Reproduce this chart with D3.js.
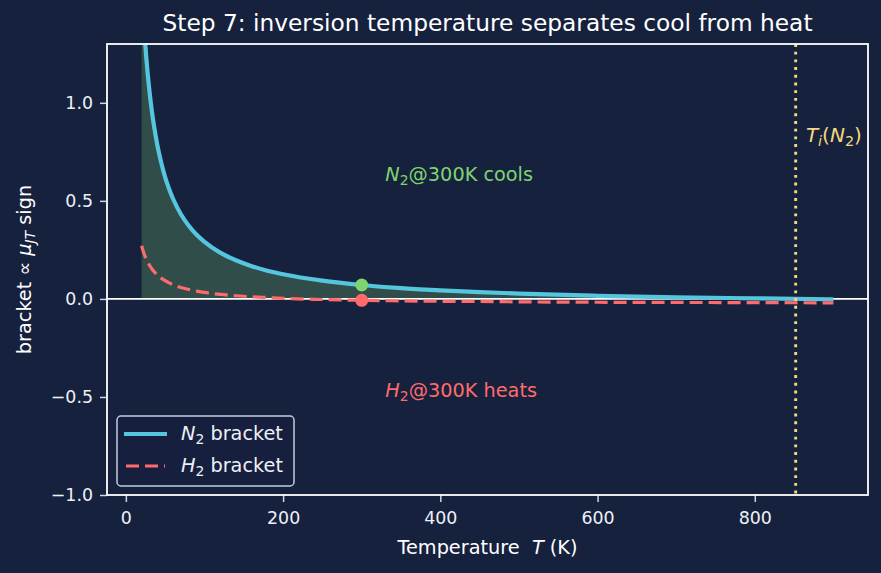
<!DOCTYPE html>
<html>
<head>
<meta charset="utf-8">
<script src="https://cdn.jsdelivr.net/npm/d3@7"></script>
<style>
  body { margin: 0; background: #16213e; }
  text { font-family: "DejaVu Sans", sans-serif; white-space: pre; }
</style>
</head>
<body>
<div id="chart"></div>
<script>
// temperatures (K) and bracket values
const temps = [20, 22, 24, 26, 28, 30, 33, 36, 40, 45, 50, 55, 60, 70, 80, 90, 100,
    120, 140, 160, 180, 200, 250, 300, 350, 400, 450, 500, 600, 700, 800, 900];
const n2Bracket = [1.609, 1.459, 1.334, 1.229, 1.138, 1.060, 0.960, 0.877, 0.785, 0.694,
    0.620, 0.561, 0.511, 0.432, 0.373, 0.327, 0.291, 0.236, 0.197, 0.167, 0.144, 0.126,
    0.093, 0.071, 0.055, 0.044, 0.035, 0.027, 0.016, 0.008, 0.003, -0.002];
const h2Bracket = [0.271, 0.244, 0.222, 0.202, 0.186, 0.172, 0.154, 0.139, 0.122, 0.106,
    0.093, 0.082, 0.073, 0.058, 0.048, 0.040, 0.033, 0.023, 0.016, 0.011, 0.007, 0.003,
    -0.003, -0.007, -0.010, -0.012, -0.013, -0.015, -0.017, -0.018, -0.019, -0.020];

const tRef = 300;
const n2Ref = 0.071;
const h2Ref = -0.007;
const tInversion = 852;

const xTicks = [0, 200, 400, 600, 800];
const yTicks = [-1.0, -0.5, 0.0, 0.5, 1.0];

const W = 881, H = 573;
const margin = {top: 44, right: 13, bottom: 78, left: 107};
const width = W - margin.left - margin.right,
    height = H - margin.top - margin.bottom;

const bg = "#16213e";
const cyan = "#56c5de";
const red = "#ff6b6b";
const green = "#7fd46f";
const yellow = "#f3d87c";

const svg = d3.select("#chart")
    .append("svg")
    .attr("width", W)
    .attr("height", H)
    .style("background", bg);

const g = svg.append("g")
    .attr("transform", "translate(" + margin.left + "," + margin.top + ")");

const x = d3.scaleLinear().domain([-24, 944]).range([0, width]);
const y = d3.scaleLinear().domain([-1.0, 1.3]).range([height, 0]);

svg.append("defs").append("clipPath")
    .attr("id", "plotclip")
    .append("rect")
    .attr("width", width)
    .attr("height", height);

const rows = temps.map((t, i) => ({t: t, n2: n2Bracket[i], h2: h2Bracket[i]}));

const plot = g.append("g").attr("clip-path", "url(#plotclip)");

// shaded region under N2 where it is positive
plot.append("path")
    .datum(rows.filter(d => d.n2 > 0))
    .attr("fill", green)
    .attr("fill-opacity", 0.25)
    .attr("d", d3.area()
        .x(d => x(d.t))
        .y0(y(0))
        .y1(d => y(d.n2))
        .curve(d3.curveMonotoneX));

// zero line
plot.append("line")
    .attr("x1", 0).attr("x2", width)
    .attr("y1", y(0)).attr("y2", y(0))
    .attr("stroke", "white")
    .attr("stroke-width", 1.8);

plot.append("path")
    .datum(rows)
    .attr("fill", "none")
    .attr("stroke", cyan)
    .attr("stroke-width", 4.2)
    .attr("d", d3.line().x(d => x(d.t)).y(d => y(d.n2)).curve(d3.curveMonotoneX));

plot.append("path")
    .datum(rows)
    .attr("fill", "none")
    .attr("stroke", red)
    .attr("stroke-width", 3.2)
    .attr("stroke-dasharray", "13,6")
    .attr("d", d3.line().x(d => x(d.t)).y(d => y(d.h2)).curve(d3.curveMonotoneX));

// inversion temperature
plot.append("line")
    .attr("x1", x(tInversion)).attr("x2", x(tInversion))
    .attr("y1", 0).attr("y2", height)
    .attr("stroke", yellow)
    .attr("stroke-width", 2.9)
    .attr("stroke-dasharray", "2.9,4.8");

plot.append("circle")
    .attr("cx", x(tRef)).attr("cy", y(n2Ref)).attr("r", 6.5)
    .attr("fill", green);
plot.append("circle")
    .attr("cx", x(tRef)).attr("cy", y(h2Ref)).attr("r", 6.5)
    .attr("fill", red);

// text helper for math-ish labels: parts = [text, style]
function mathText(sel, parts) {
    parts.forEach(p => {
        let ts = sel.append("tspan").text(p[0]);
        if (p[1].includes("i")) ts.attr("font-style", "italic");
        if (p[1].includes("sub")) {
            ts.attr("font-size", "72%").attr("dy", "0.28em");
        }
        if (p[1].includes("back")) ts.attr("dy", "-0.2em");
    });
    return sel;
}

mathText(g.append("text")
    .attr("x", x(330)).attr("y", y(0.6))
    .attr("fill", green)
    .attr("font-size", 19.3), [["N", "i"], ["2", "sub"], ["@300K cools", "back"]]);

mathText(g.append("text")
    .attr("x", x(330)).attr("y", y(-0.5))
    .attr("fill", red)
    .attr("font-size", 19.3), [["H", "i"], ["2", "sub"], ["@300K heats", "back"]]);

mathText(g.append("text")
    .attr("x", x(865)).attr("y", y(0.8))
    .attr("fill", yellow)
    .attr("font-size", 20), [["T", "i"], ["i", "subi"], ["(", "back"], ["N", "i"], ["2", "sub"], [")", "back"]]);

// axes
const xAxis = g.append("g")
    .attr("transform", "translate(0," + height + ")")
    .call(d3.axisBottom(x).tickValues(xTicks).tickSize(7).tickPadding(10).tickSizeOuter(0));
const yAxis = g.append("g")
    .call(d3.axisLeft(y).tickValues(yTicks).tickFormat(d3.format(".1f")).tickSize(7).tickPadding(7).tickSizeOuter(0));

[xAxis, yAxis].forEach(a => {
    a.select(".domain").remove();
    a.selectAll(".tick line").attr("stroke", "#d0d6e6").attr("stroke-width", 1.5);
    a.selectAll(".tick text")
        .attr("fill", "#eef0f6")
        .attr("font-size", 17.4)
        .attr("font-family", "DejaVu Sans");
});

// frame
g.append("rect")
    .attr("width", width).attr("height", height)
    .attr("fill", "none")
    .attr("stroke", "white")
    .attr("stroke-width", 1.8);

// legend
const leg = g.append("g").attr("transform", "translate(10,372)");
leg.append("rect")
    .attr("width", 177).attr("height", 70).attr("rx", 4)
    .attr("fill", bg).attr("fill-opacity", 0.8)
    .attr("stroke", "#c5cbe0").attr("stroke-width", 1.5);
leg.append("line")
    .attr("x1", 7).attr("x2", 50).attr("y1", 18).attr("y2", 18)
    .attr("stroke", cyan).attr("stroke-width", 4.2);
leg.append("line")
    .attr("x1", 9).attr("x2", 48).attr("y1", 50).attr("y2", 50)
    .attr("stroke", red).attr("stroke-width", 3.2).attr("stroke-dasharray", "13,6");
mathText(leg.append("text")
    .attr("x", 64).attr("y", 24)
    .attr("fill", "#eef0f6").attr("font-size", 19.3), [["N", "i"], ["2", "sub"], [" bracket", "back"]]);
mathText(leg.append("text")
    .attr("x", 64).attr("y", 56)
    .attr("fill", "#eef0f6").attr("font-size", 19.3), [["H", "i"], ["2", "sub"], [" bracket", "back"]]);

// title and axis labels
svg.append("text")
    .attr("x", margin.left + width / 2).attr("y", 31)
    .attr("text-anchor", "middle")
    .attr("fill", "white")
    .attr("font-size", 23.3)
    .text("Step 7: inversion temperature separates cool from heat");

mathText(svg.append("text")
    .attr("x", margin.left + width / 2).attr("y", 554)
    .attr("text-anchor", "middle")
    .attr("fill", "white")
    .attr("font-size", 19.3), [["Temperature  ", ""], ["T", "i"], [" (K)", ""]]);

mathText(svg.append("text")
    .attr("transform", "translate(31," + (margin.top + height / 2) + ") rotate(-90)")
    .attr("text-anchor", "middle")
    .attr("fill", "white")
    .attr("font-size", 19.3), [["bracket ", ""], ["\u221d ", ""], ["\u03bc", "i"], ["JT", "subi"], [" sign", "back"]]);
</script>
</body>
</html>
